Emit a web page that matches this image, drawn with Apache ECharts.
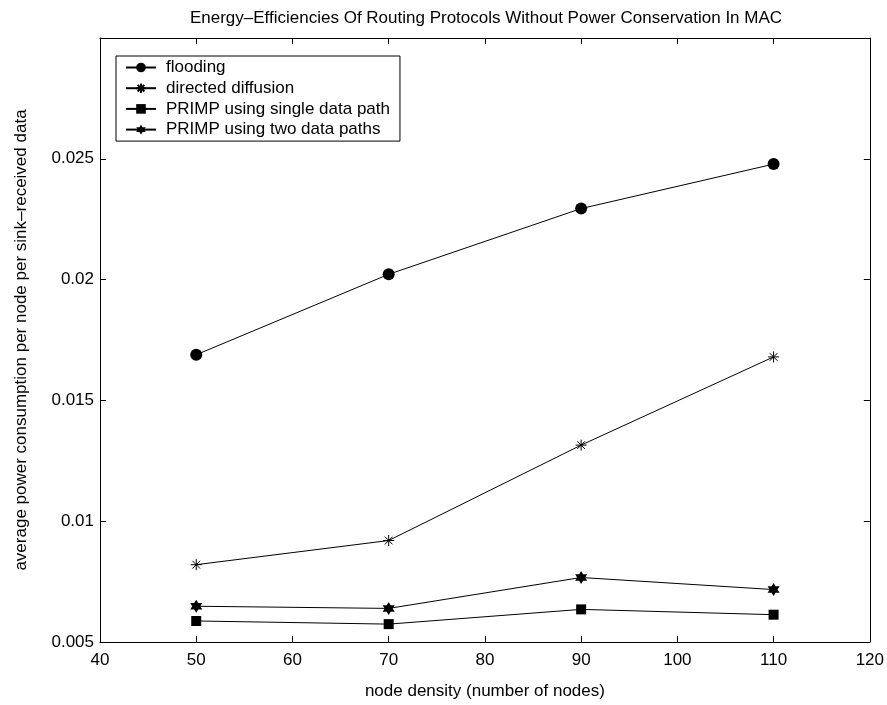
<!DOCTYPE html>
<html>
<head>
<meta charset="utf-8">
<script src="https://cdn.jsdelivr.net/npm/echarts@6/dist/echarts.min.js"></script>
<style>
  html, body { margin: 0; padding: 0; background: #fff; }
  #chart { width: 887px; height: 705px; }
</style>
</head>
<body>
<div id="chart"></div>
<script>
// 数据
const nodeDensity = [50, 70, 90, 110];
const flooding = [0.01689, 0.02022, 0.02294, 0.02478];
const directedDiffusion = [0.0082, 0.0092, 0.01315, 0.0168];
const primpSingle = [0.00587, 0.00574, 0.00635, 0.00613];
const primpTwo = [0.00648, 0.00639, 0.00767, 0.00717];
const seriesNames = ['flooding', 'directed diffusion', 'PRIMP using single data path', 'PRIMP using two data paths'];

const FONT = '"Liberation Sans", Arial, Helvetica, sans-serif';
const asterisk = 'path://M0,-5L0,5M-5,0L5,0M-3.5,-3.5L3.5,3.5M-3.5,3.5L3.5,-3.5';
const hexagram = 'path://M0,-10L2.89,-5L8.66,-5L5.77,0L8.66,5L2.89,5L0,10L-2.89,5L-8.66,5L-5.77,0L-8.66,-5L-2.89,-5Z';

function pairs(ys) {
    return nodeDensity.map((x, i) => [x, ys[i]]);
}

function lineSeries(name, ys, symbol, size, extra) {
    return Object.assign({
        name: name,
        type: 'line',
        data: pairs(ys),
        symbol: symbol,
        symbolSize: size,
        showAllSymbol: true,
        lineStyle: { color: '#000', width: 1 },
        itemStyle: { color: '#000', borderColor: '#000', borderWidth: 0 },
        emphasis: { disabled: true },
        animation: false
    }, extra || {});
}

const tickStyle = { show: true, inside: true, length: 6, lineStyle: { color: '#000', width: 1 } };
const lineAxis = { show: true, lineStyle: { color: '#000', width: 1 } };

const chart = echarts.init(document.getElementById('chart'));
chart.setOption({
    backgroundColor: '#fff',
    animation: false,
    title: {
        text: 'Energy\u2013Efficiencies Of Routing Protocols Without Power Conservation In MAC',
        left: 486,
        textAlign: 'center',
        top: 10,
        padding: 0,
        textStyle: { fontFamily: FONT, fontSize: 17, fontWeight: 'normal', color: '#000' }
    },
    legend: {
        orient: 'vertical',
        left: 116,
        top: 56,
        padding: [3, 10, 3, 9],
        itemGap: 3.7,
        itemWidth: 30,
        itemHeight: 12,
        borderColor: '#000',
        borderWidth: 1,
        backgroundColor: '#fff',
        data: seriesNames,
        textStyle: { fontFamily: FONT, fontSize: 17, color: '#000', lineHeight: 17, padding: [0, 0, 0, 5] }
    },
    grid: { left: 100, right: 17, top: 38, bottom: 61, containLabel: false },
    xAxis: [{
        type: 'value',
        min: 40, max: 120, interval: 10,
        position: 'bottom',
        name: 'node density (number of nodes)',
        nameLocation: 'middle',
        nameGap: 41,
        nameTextStyle: { fontFamily: FONT, fontSize: 17, color: '#000' },
        axisLine: lineAxis,
        axisTick: tickStyle,
        axisLabel: { fontFamily: FONT, fontSize: 17, color: '#000', margin: 10 },
        splitLine: { show: false }
    }, {
        type: 'value',
        min: 40, max: 120, interval: 10,
        position: 'top',
        axisLine: lineAxis,
        axisTick: tickStyle,
        axisLabel: { show: false },
        splitLine: { show: false }
    }],
    yAxis: [{
        type: 'value',
        min: 0.005, max: 0.03, interval: 0.005,
        position: 'left',
        name: 'average power consumption per node per sink\u2013received data',
        nameLocation: 'middle',
        nameGap: 70,
        nameTextStyle: { fontFamily: FONT, fontSize: 17, color: '#000' },
        axisLine: lineAxis,
        axisTick: tickStyle,
        axisLabel: {
            fontFamily: FONT, fontSize: 17, color: '#000', margin: 6,
            formatter: v => (Math.abs(v - 0.03) < 1e-9 ? '' : String(+v.toFixed(4)))
        },
        splitLine: { show: false }
    }, {
        type: 'value',
        min: 0.005, max: 0.03, interval: 0.005,
        position: 'right',
        axisLine: lineAxis,
        axisTick: tickStyle,
        axisLabel: { show: false },
        splitLine: { show: false }
    }],
    series: [
        lineSeries(seriesNames[0], flooding, 'circle', 12),
        lineSeries(seriesNames[1], directedDiffusion, asterisk, 11, {
            itemStyle: { color: '#000', borderColor: '#000', borderWidth: 1 }
        }),
        lineSeries(seriesNames[2], primpSingle, 'rect', 10),
        lineSeries(seriesNames[3], primpTwo, hexagram, [12, 13])
    ]
});
</script>
</body>
</html>
